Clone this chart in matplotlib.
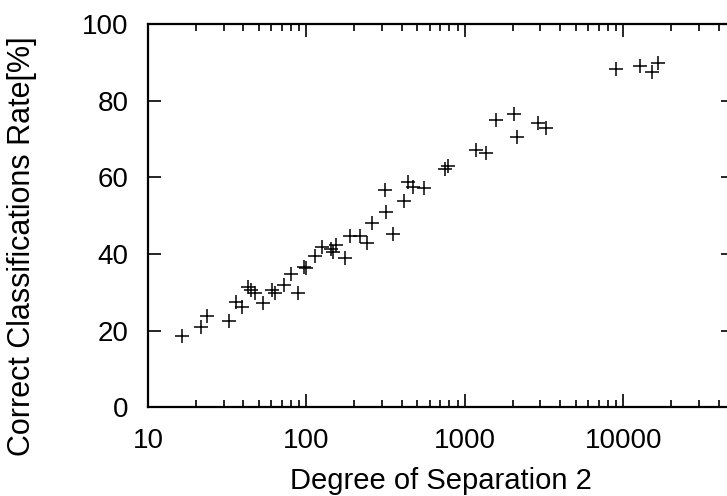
import numpy as np
import matplotlib
matplotlib.use("Agg")
import matplotlib.pyplot as plt
from matplotlib.ticker import FixedLocator, FixedFormatter, LogLocator, NullFormatter

# degree of separation vs correct classification rate
separation = [16.3, 21.7, 23.4, 32.4, 36.1, 39.4, 42.8, 44.5, 47.2, 53.2,
              60.4, 63.1, 71.9, 80.4, 88.1, 96.1, 100, 114, 124.5, 143.9,
              147.2, 154.5, 174.5, 189.6, 217, 242.7, 259.4, 311.9, 316.6, 352.7,
              413, 437.7, 470.6, 550, 746.7, 783.4, 1183, 1368, 1583, 2047,
              2136, 2897, 3274, 9058, 12700, 15200, 16600]
rate = [18.7, 20.9, 23.8, 22.6, 27.5, 26.1, 31.3, 30.6, 29.7, 27.1,
        30.5, 29.9, 31.9, 34.8, 29.7, 36.7, 36.4, 39.5, 41.9, 41.2,
        40.6, 42.3, 38.9, 44.7, 44.7, 42.8, 48.2, 56.7, 50.9, 45.1,
        53.9, 58.9, 57.6, 57.3, 62.1, 63.0, 67.1, 66.4, 75.0, 76.5,
        70.6, 74.3, 72.9, 88.2, 89.0, 87.6, 89.7]

x_ticks = [10, 100, 1000, 10000]
x_labels = ["10", "100", "1000", "10000"]
y_ticks = [0, 20, 40, 60, 80, 100]

plt.rcParams['font.family'] = ['Liberation Sans', 'DejaVu Sans']

fig = plt.figure(figsize=(7.27, 4.96), dpi=100)
# the right border of the plot falls just outside the picture
ax = fig.add_axes([0.2036, 0.1788, 0.806, 0.7728])

ax.plot(separation, rate, linestyle='none', marker='+', color='black',
        markersize=10.5, markeredgewidth=1.1)

ax.set_xscale('log')
ax.set_xlim(10, 50000)
ax.set_ylim(0, 100)

ax.xaxis.set_major_locator(FixedLocator(x_ticks))
ax.xaxis.set_major_formatter(FixedFormatter(x_labels))
ax.xaxis.set_minor_locator(LogLocator(base=10, subs=np.arange(2, 10)))
ax.xaxis.set_minor_formatter(NullFormatter())
ax.set_yticks(y_ticks)

ax.tick_params(axis='both', which='both', direction='in', top=True, right=True,
               labelsize=20, colors='black')
ax.tick_params(which='major', length=9.5, width=1.2)
ax.tick_params(which='minor', length=5, width=1.2)
ax.tick_params(axis='x', pad=15)
ax.tick_params(axis='y', pad=14)

for s in ax.spines.values():
    s.set_linewidth(1.6)

ax.set_xlabel('Degree of Separation 2', fontsize=21)
ax.set_ylabel('Correct Classifications Rate[%]', fontsize=22)
ax.xaxis.set_label_coords(0.5, -0.155)
ax.yaxis.set_label_coords(-0.19, 0.42)

fig.savefig('out.png', dpi=100)
